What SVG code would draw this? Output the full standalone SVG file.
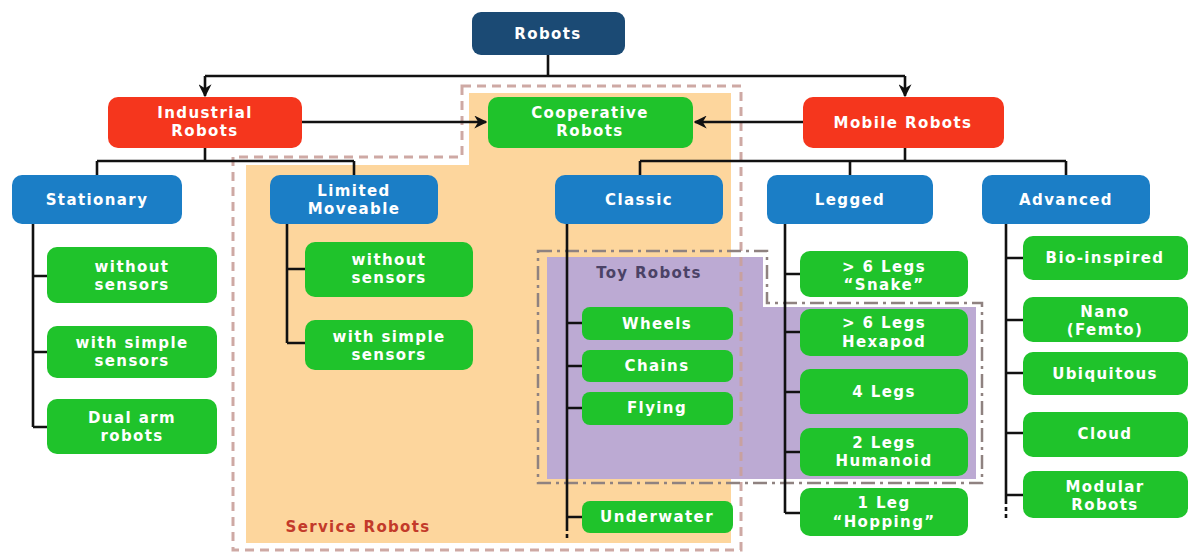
<svg xmlns="http://www.w3.org/2000/svg" width="1189" height="553" viewBox="0 0 1189 553">
<style>
.n rect{stroke:none}
.navy{fill:#1b4a74}
.red{fill:#f5361d}
.blue{fill:#1b7ec6}
.green{fill:#1fc32b}
.t{font-family:"DejaVu Sans",Verdana,sans-serif;font-weight:bold;font-size:15px;letter-spacing:1.4px;fill:#fff;text-anchor:middle}
.c line,.c path{stroke:#111;stroke-width:2.6;fill:none}
.lbl{font-family:"DejaVu Sans",Verdana,sans-serif;font-weight:bold;font-size:15px;letter-spacing:1.3px}
</style>
<defs>
<marker id="ah" viewBox="0 0 10 10" refX="9" refY="5" markerWidth="5" markerHeight="5" orient="auto" markerUnits="strokeWidth">
<path d="M0,0 L10,5 L0,10 L3,5 Z" fill="#111"/>
</marker>
</defs>
<rect width="1189" height="553" fill="#fff"/>
<g id="regions">
<polygon points="469,93 731,93 731,543 246,543 246,165 469,165" fill="#fdd69d"/>
<polygon points="547,257 763,257 763,307 976,307 976,479 547,479" fill="#bcaad3"/>
<path d="M462,86 H741 V550 H233 V157 H462 Z" fill="none" stroke="#c9a09a" stroke-width="3" stroke-dasharray="9 6" opacity="0.9"/>
<path d="M538,251 H767 V303 H982 V483 H538 Z" fill="none" stroke="#8f8280" stroke-width="2.5" stroke-dasharray="14 5 3 5"/>
<text class="lbl" x="358" y="532" text-anchor="middle" fill="#c33a2a">Service Robots</text>
<text class="lbl" x="649" y="278" text-anchor="middle" fill="#4b4266">Toy Robots</text>
</g>
<g id="connectors" class="c">
<line x1="548" y1="55" x2="548" y2="76"/>
<line x1="205" y1="76" x2="905" y2="76"/>
<line x1="205" y1="76" x2="205" y2="96" marker-end="url(#ah)"/>
<line x1="905" y1="76" x2="905" y2="96" marker-end="url(#ah)"/>
<line x1="302" y1="122" x2="486" y2="122" marker-end="url(#ah)"/>
<line x1="803" y1="122" x2="695" y2="122" marker-end="url(#ah)"/>
<line x1="205" y1="148" x2="205" y2="161"/>
<line x1="97" y1="161" x2="354" y2="161"/>
<line x1="97" y1="161" x2="97" y2="175"/>
<line x1="354" y1="161" x2="354" y2="175"/>
<line x1="905" y1="148" x2="905" y2="161"/>
<line x1="640" y1="161" x2="1066" y2="161"/>
<line x1="640" y1="161" x2="640" y2="175"/>
<line x1="850" y1="161" x2="850" y2="175"/>
<line x1="1066" y1="161" x2="1066" y2="175"/>
<path d="M33,224 V427 M33,276 H47 M33,352 H47 M33,427 H47"/>
<path d="M287,224 V343 M287,269 H305 M287,343 H305"/>
<path d="M567,224 V527 M567,323 H582 M567,366 H582 M567,408 H582 M567,517 H582"/>
<line x1="567" y1="527" x2="567" y2="541" stroke-dasharray="4 3"/>
<path d="M785,224 V513 M785,274 H800 M785,332 H800 M785,392 H800 M785,452 H800 M785,513 H800"/>
<path d="M1006,224 V500 M1006,258 H1023 M1006,320 H1023 M1006,373 H1023 M1006,433 H1023 M1006,495 H1023"/>
<line x1="1006" y1="500" x2="1006" y2="518" stroke-dasharray="4 3"/>
</g>
<g id="robots" class="n"><rect class="navy" x="472" y="12" width="153" height="43" rx="9"/><text class="t" x="548" y="39">Robots</text></g>
<g id="industrial" class="n"><rect class="red" x="108" y="97" width="194" height="51" rx="10"/><text class="t" x="205" y="118">Industrial</text><text class="t" x="205" y="136">Robots</text></g>
<g id="cooperative" class="n"><rect class="green" x="488" y="97" width="205" height="51" rx="10"/><text class="t" x="590" y="118">Cooperative</text><text class="t" x="590" y="136">Robots</text></g>
<g id="mobile" class="n"><rect class="red" x="803" y="97" width="201" height="51" rx="10"/><text class="t" x="903" y="128">Mobile Robots</text></g>
<g id="stationary" class="n"><rect class="blue" x="12" y="175" width="170" height="49" rx="10"/><text class="t" x="97" y="205">Stationary</text></g>
<g id="limited" class="n"><rect class="blue" x="270" y="175" width="168" height="49" rx="10"/><text class="t" x="354" y="196">Limited</text><text class="t" x="354" y="214">Moveable</text></g>
<g id="classic" class="n"><rect class="blue" x="555" y="175" width="168" height="49" rx="10"/><text class="t" x="639" y="205">Classic</text></g>
<g id="legged" class="n"><rect class="blue" x="767" y="175" width="166" height="49" rx="10"/><text class="t" x="850" y="205">Legged</text></g>
<g id="advanced" class="n"><rect class="blue" x="982" y="175" width="168" height="49" rx="10"/><text class="t" x="1066" y="205">Advanced</text></g>
<g id="st-without" class="n"><rect class="green" x="47" y="247" width="170" height="56" rx="10"/><text class="t" x="132" y="272">without</text><text class="t" x="132" y="290">sensors</text></g>
<g id="st-simple" class="n"><rect class="green" x="47" y="326" width="170" height="52" rx="10"/><text class="t" x="132" y="348">with simple</text><text class="t" x="132" y="366">sensors</text></g>
<g id="st-dual" class="n"><rect class="green" x="47" y="399" width="170" height="55" rx="10"/><text class="t" x="132" y="423">Dual arm</text><text class="t" x="132" y="441">robots</text></g>
<g id="lm-without" class="n"><rect class="green" x="305" y="242" width="168" height="55" rx="10"/><text class="t" x="389" y="265">without</text><text class="t" x="389" y="283">sensors</text></g>
<g id="lm-simple" class="n"><rect class="green" x="305" y="320" width="168" height="50" rx="10"/><text class="t" x="389" y="342">with simple</text><text class="t" x="389" y="360">sensors</text></g>
<g id="wheels" class="n"><rect class="green" x="582" y="307" width="151" height="33" rx="8"/><text class="t" x="657" y="329">Wheels</text></g>
<g id="chains" class="n"><rect class="green" x="582" y="350" width="151" height="32" rx="8"/><text class="t" x="657" y="371">Chains</text></g>
<g id="flying" class="n"><rect class="green" x="582" y="392" width="151" height="33" rx="8"/><text class="t" x="657" y="413">Flying</text></g>
<g id="underwater" class="n"><rect class="green" x="582" y="501" width="151" height="32" rx="8"/><text class="t" x="657" y="522">Underwater</text></g>
<g id="snake" class="n"><rect class="green" x="800" y="251" width="168" height="46" rx="10"/><text class="t" x="884" y="272">&gt; 6 Legs</text><text class="t" x="884" y="290">“Snake”</text></g>
<g id="hexapod" class="n"><rect class="green" x="800" y="309" width="168" height="47" rx="10"/><text class="t" x="884" y="328">&gt; 6 Legs</text><text class="t" x="884" y="347">Hexapod</text></g>
<g id="legs4" class="n"><rect class="green" x="800" y="369" width="168" height="45" rx="10"/><text class="t" x="884" y="397">4 Legs</text></g>
<g id="legs2" class="n"><rect class="green" x="800" y="428" width="168" height="48" rx="10"/><text class="t" x="884" y="448">2 Legs</text><text class="t" x="884" y="466">Humanoid</text></g>
<g id="leg1" class="n"><rect class="green" x="800" y="488" width="168" height="48" rx="10"/><text class="t" x="884" y="508">1 Leg</text><text class="t" x="884" y="527">“Hopping”</text></g>
<g id="bio" class="n"><rect class="green" x="1023" y="236" width="165" height="44" rx="10"/><text class="t" x="1105" y="263">Bio-inspired</text></g>
<g id="nano" class="n"><rect class="green" x="1023" y="297" width="165" height="45" rx="10"/><text class="t" x="1105" y="317">Nano</text><text class="t" x="1105" y="335">(Femto)</text></g>
<g id="ubiquitous" class="n"><rect class="green" x="1023" y="352" width="165" height="43" rx="10"/><text class="t" x="1105" y="379">Ubiquitous</text></g>
<g id="cloud" class="n"><rect class="green" x="1023" y="412" width="165" height="45" rx="10"/><text class="t" x="1105" y="439">Cloud</text></g>
<g id="modular" class="n"><rect class="green" x="1023" y="471" width="165" height="47" rx="10"/><text class="t" x="1105" y="492">Modular</text><text class="t" x="1105" y="510">Robots</text></g>
</svg>
